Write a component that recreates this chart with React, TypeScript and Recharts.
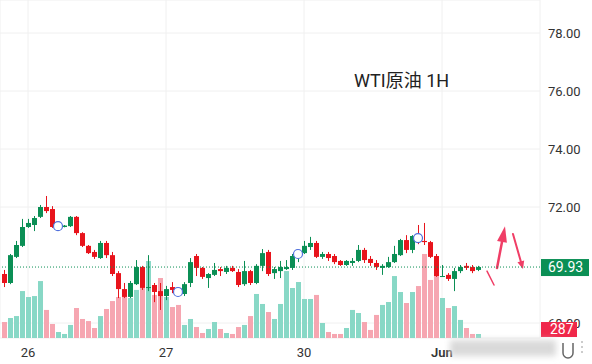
import { ComposedChart, Bar, Scatter, XAxis, YAxis, CartesianGrid, ReferenceLine } from "recharts";

const opens = [69.69, 69.38, 70.28, 70.66, 71.31, 71.38, 71.66, 72.0, 71.93, 71.3, 71.31, 71.34, 71.66, 71.1, 70.66, 70.45, 70.24, 70.76, 70.34, 69.72, 69.17, 68.9, 69.34, 69.93, 69.21, 69.31, 69.1, 68.93, 69.24, 69.1, 69.0, 69.38, 70.31, 69.9, 69.55, 69.66, 69.86, 69.76, 69.9, 69.76, 69.34, 69.79, 69.38, 69.97, 70.45, 69.72, 69.79, 69.86, 69.9, 70.3, 70.41, 70.62, 70.76, 70.28, 70.38, 70.31, 70.14, 70.0, 70.07, 70.14, 70.52, 70.21, 70.07, 69.9, 69.93, 70.1, 70.34, 70.86, 70.52, 71.0, 70.83, 70.79, 70.31, 69.59, 69.66, 69.52, 69.79, 69.97, 69.93, 69.83];
const highs = [69.83, 70.38, 70.83, 71.59, 71.59, 71.69, 72.07, 72.38, 72.03, 71.36, 71.38, 71.69, 71.69, 71.13, 70.69, 70.52, 70.83, 70.83, 70.45, 69.79, 69.38, 69.45, 70.17, 69.97, 70.34, 69.38, 69.38, 69.28, 69.41, 69.14, 69.41, 70.24, 70.38, 69.93, 69.72, 70.07, 69.93, 69.97, 69.97, 69.86, 70.14, 69.83, 70.03, 70.55, 70.52, 69.93, 70.14, 70.17, 70.38, 70.45, 70.83, 70.97, 70.83, 70.45, 70.45, 70.38, 70.17, 70.17, 70.24, 70.69, 70.59, 70.31, 70.17, 70.03, 70.28, 70.66, 70.9, 71.03, 71.03, 71.38, 71.45, 70.83, 70.38, 70.0, 69.72, 69.9, 70.0, 70.07, 70.0, 69.97];
const lows = [69.24, 69.34, 70.24, 70.62, 71.28, 71.17, 71.62, 71.79, 71.28, 71.26, 71.3, 71.31, 71.03, 70.62, 70.38, 70.21, 70.21, 70.24, 69.62, 68.86, 68.86, 68.86, 69.31, 69.14, 69.1, 68.72, 68.45, 68.79, 69.03, 69.03, 68.93, 69.24, 69.62, 69.52, 69.21, 69.62, 69.62, 69.69, 69.76, 69.24, 69.28, 69.31, 69.34, 69.79, 69.62, 69.52, 69.55, 69.83, 69.83, 70.1, 70.38, 70.52, 70.24, 70.21, 70.14, 70.03, 69.97, 69.97, 69.97, 70.1, 70.07, 69.97, 69.83, 69.66, 69.9, 70.07, 70.31, 70.41, 70.41, 70.72, 70.69, 70.24, 69.59, 69.59, 69.45, 69.1, 69.72, 69.83, 69.72, 69.79];
const closes = [69.38, 70.34, 70.69, 71.31, 71.45, 71.62, 72.0, 71.86, 71.31, 71.33, 71.36, 71.66, 71.1, 70.66, 70.41, 70.28, 70.76, 70.34, 69.69, 69.17, 68.9, 69.38, 69.93, 69.21, 69.24, 69.07, 68.93, 69.17, 69.14, 69.07, 69.34, 70.1, 69.9, 69.59, 69.69, 69.83, 69.79, 69.9, 69.79, 69.31, 69.79, 69.38, 69.97, 70.41, 69.69, 69.86, 69.93, 69.93, 70.31, 70.38, 70.66, 70.76, 70.28, 70.38, 70.24, 70.1, 70.0, 70.14, 70.14, 70.52, 70.17, 70.07, 69.93, 69.97, 70.1, 70.38, 70.86, 70.52, 71.0, 70.9, 70.79, 70.28, 69.62, 69.62, 69.52, 69.79, 69.93, 69.9, 69.79, 69.93];
const volumes = [1150, 1440, 1580, 3380, 2950, 3020, 4100, 2020, 1010, 430, 290, 940, 2160, 1370, 1220, 720, 1580, 2090, 2660, 2950, 3240, 2880, 3460, 3600, 5540, 3100, 4320, 2950, 2230, 2380, 940, 1370, 790, 360, 650, 1150, 650, 360, 290, 790, 940, 1580, 3170, 2450, 1870, 1370, 2450, 4820, 3600, 4030, 2810, 2810, 3100, 1080, 430, 290, 290, 720, 2020, 1800, 1150, 580, 1660, 2380, 2590, 4460, 3310, 2520, 3310, 3740, 6050, 4180, 4460, 2880, 2160, 2300, 1300, 720, 290, 287];

// day boundaries (bar index) and their labels
const dayTicks = [4, 27, 50, 73];
const dayLabels = ["26", "27", "30", "Jun"];
const priceTicks = [68, 72, 74, 76, 78];
const lastPrice = 69.93;
const lastVolume = 287;

// indicator rings
const markIdx = [9, 29, 49, 69];
const markVal = [71.34, 69.07, 70.38, 70.93];

// hand drawn strokes: [startIdx, startPrice, endIdx, endPrice]
const drawnLine = [80.5, 69.79, 81.67, 69.31];
const arrowUp = [82.17, 69.9, 83.5, 71.34];
const arrowDown = [84.83, 71.07, 86.5, 69.86];

const GREEN = "#0b8f55";
const RED = "#e8141c";
const VOL_UP = "#88d8c6";
const VOL_DOWN = "#f6a6b1";
const PEN = "#f03e66";

const rows = opens.map((o, i) => ({
  k: i,
  open: o,
  high: highs[i],
  low: lows[i],
  close: closes[i],
  vol: volumes[i],
}));
const marks = markIdx.map((k, i) => ({ k, v: markVal[i] }));

const xDomain = [-0.6667, 89.3333];

const Candle = (props: any) => {
  const { x, y, width, height, payload } = props;
  const { open, close, high, low } = payload;
  const top = Math.min(y, y + height);
  const span = Math.abs(height);
  const perUnit = span / (high - low);
  const py = (v: number) => top + (high - v) * perUnit;
  const cx = Math.round(x + width / 2);
  const color = close >= open ? GREEN : RED;
  const bTop = py(Math.max(open, close));
  const bH = Math.max(1, Math.abs(py(open) - py(close)));
  return (
    <g>
      <rect x={cx} y={top} width={1} height={span} fill={color} />
      <rect x={cx - 2} y={bTop} width={5} height={bH} fill={color} />
    </g>
  );
};

const VolBar = (props: any) => {
  const { x, y, width, height, payload } = props;
  const cx = Math.round(x + width / 2);
  const up = payload.close >= payload.open;
  return <rect x={cx - 2} y={y} width={5} height={height} fill={up ? VOL_UP : VOL_DOWN} />;
};

const Ring = (props: any) => (
  <circle cx={props.cx} cy={props.cy} r={4.5} fill="#fff" stroke="#4f6fdc" strokeWidth={1.2} />
);

const DayTick = (props: any) => {
  const { x, y, payload } = props;
  const t = dayLabels[dayTicks.indexOf(payload.value)];
  return (
    <text x={x} y={y + 11} textAnchor="middle" fontSize={13} fill="#333" fontWeight={t === "Jun" ? 600 : 400}>
      {t}
    </text>
  );
};

const PriceTag = (props: any) => {
  const { viewBox } = props;
  const left = viewBox.x + viewBox.width + 1;
  return (
    <g>
      <rect x={left} y={viewBox.y - 8} width={48} height={17} fill={GREEN} />
      <text x={left + 7} y={viewBox.y + 5} fontSize={14} fill="#fff">
        {lastPrice.toFixed(2)}
      </text>
    </g>
  );
};

const VolTag = (props: any) => {
  const { viewBox } = props;
  const left = viewBox.x + viewBox.width + 1;
  return (
    <g>
      <rect x={left} y={viewBox.y - 12} width={36} height={15} fill="#f0284a" />
      <text x={left + 9} y={viewBox.y}>
        <tspan fontSize={14} fill="#fff">{lastVolume}</tspan>
      </text>
    </g>
  );
};

const arrowShape = (head: number, half: number, sw: number) => (p: any) => {
  const { x1, y1, x2, y2 } = p;
  const dx = x2 - x1;
  const dy = y2 - y1;
  const len = Math.hypot(dx, dy) || 1;
  const ux = dx / len;
  const uy = dy / len;
  const bx = x2 - ux * head;
  const by = y2 - uy * head;
  return (
    <g>
      <line x1={x1} y1={y1} x2={head > 0 ? bx + ux * 2 : x2} y2={head > 0 ? by + uy * 2 : y2} stroke={PEN} strokeWidth={sw} strokeLinecap="round" />
      {head > 0 && (
        <polygon
          points={`${x2},${y2} ${bx - uy * half},${by + ux * half} ${bx + uy * half},${by - ux * half}`}
          fill={PEN}
        />
      )}
    </g>
  );
};

const seg = (s: number[]) => [
  { x: s[0], y: s[1] },
  { x: s[2], y: s[3] },
];

export default function App() {
  return (
    <div
      style={{
        position: "absolute",
        left: 0,
        top: 0,
        width: 592,
        height: 364,
        background: "#fff",
        fontFamily: "Roboto, 'Noto Sans CJK SC', sans-serif",
        overflow: "hidden",
      }}
    >
      <ComposedChart width={592} height={364} data={rows} margin={{ top: 0, right: 0, bottom: 0, left: 0 }}>
        <CartesianGrid xAxisId="p" yAxisId="p" stroke="#f0f0f0" />
        <XAxis
          xAxisId="p"
          dataKey="k"
          type="number"
          domain={xDomain}
          allowDataOverflow
          ticks={dayTicks}
          interval={0}
          height={26}
          axisLine={false}
          tickLine={false}
          tick={<DayTick />}
        />
        <XAxis xAxisId="v" dataKey="k" type="number" domain={xDomain} allowDataOverflow hide />
        <YAxis
          yAxisId="p"
          orientation="right"
          width={52}
          domain={[67.483, 79.138]}
          allowDataOverflow
          ticks={priceTicks}
          interval={0}
          axisLine={false}
          tickLine={false}
          tickFormatter={(v: number) => v.toFixed(2)}
          tick={{ fontSize: 13, fill: "#333" }}
        />
        <YAxis yAxisId="v" hide domain={[0, 24336]} allowDataOverflow />
        <Bar xAxisId="v" yAxisId="v" dataKey="vol" barSize={5} shape={<VolBar />} isAnimationActive={false} />
        <Bar
          xAxisId="p"
          yAxisId="p"
          dataKey={(d: any) => [d.low, d.high]}
          barSize={5}
          shape={<Candle />}
          isAnimationActive={false}
        />
        <ReferenceLine
          xAxisId="p"
          yAxisId="p"
          y={lastPrice}
          stroke={GREEN}
          strokeDasharray="1 2"
          label={<PriceTag />}
          zIndex={3000}
        />
        <Scatter xAxisId="p" yAxisId="p" data={marks} dataKey="v" shape={<Ring />} isAnimationActive={false} />
        <ReferenceLine xAxisId="p" yAxisId="p" segment={seg(drawnLine)} shape={arrowShape(0, 0, 1.5)} />
        <ReferenceLine xAxisId="p" yAxisId="p" segment={seg(arrowUp)} shape={arrowShape(16, 5, 2.5)} />
        <ReferenceLine xAxisId="p" yAxisId="p" segment={seg(arrowDown)} shape={arrowShape(8, 3.5, 2)} />
        <ReferenceLine
          xAxisId="v"
          yAxisId="v"
          y={lastVolume}
          stroke="none"
          label={<VolTag />}
          zIndex={3000}
        />
      </ComposedChart>
      <svg
        width={592}
        height={364}
        style={{ position: "absolute", left: 0, top: 0, pointerEvents: "none" }}
      >
        <defs>
          <filter id="smear" x="-20%" y="-50%" width="140%" height="200%">
            <feGaussianBlur stdDeviation="3" />
          </filter>
        </defs>
        <text x={354} y={87} fontSize={18} fill="#222">
          WTI原油 1H
        </text>
        <rect x={450} y={340} width={106} height={16} fill="#d9d9d9" filter="url(#smear)" />
        <path d="M563 343 V353 A5 5 0 0 0 573 353 V343" stroke="#666" strokeWidth={1.5} fill="none" />
        <circle cx={582} cy={342} r={1} fill="#bbb" />
        <circle cx={582} cy={347} r={1} fill="#bbb" />
        <circle cx={582} cy={352} r={1} fill="#bbb" />
      </svg>
    </div>
  );
}
